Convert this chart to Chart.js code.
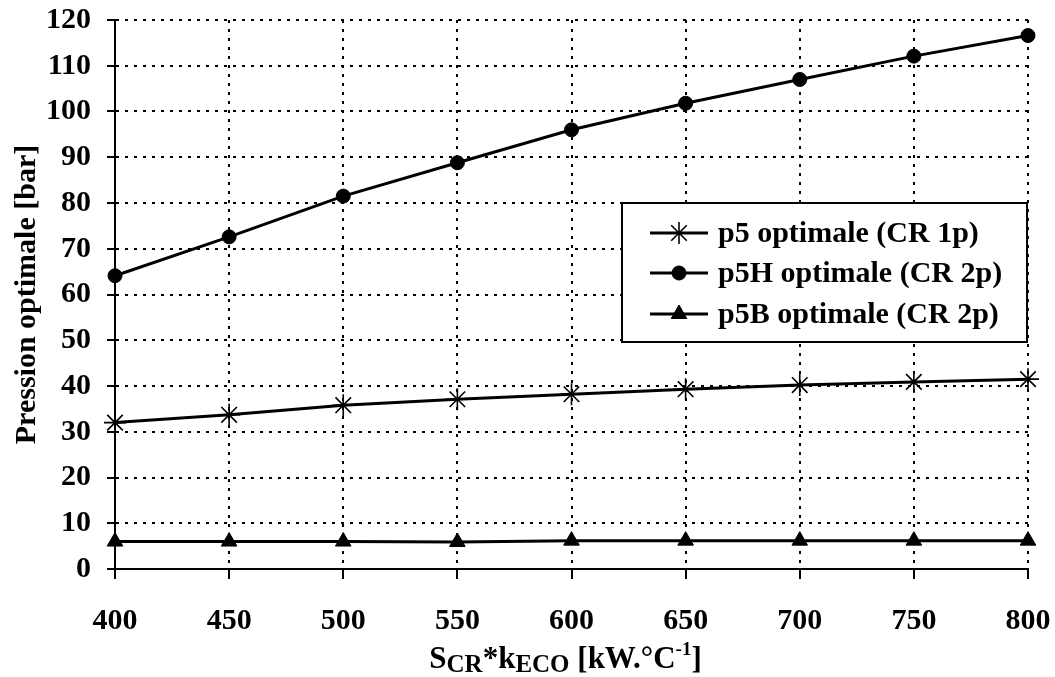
<!DOCTYPE html>
<html>
<head>
<meta charset="utf-8">
<script src="https://cdn.jsdelivr.net/npm/chart.js@4/dist/chart.umd.min.js"></script>
<style>
html, body { margin: 0; padding: 0; background: #fff; }
#wrap { width: 1055px; height: 677px; position: relative; }
</style>
</head>
<body>
<div id="wrap"><canvas id="canvas" width="1055" height="677"></canvas></div>
<script>
// values
var xValues = [400, 450, 500, 550, 600, 650, 700, 750, 800];
var p5 = [32.0, 33.7, 35.8, 37.1, 38.2, 39.3, 40.2, 40.9, 41.5];
var p5H = [64.1, 72.6, 81.5, 88.8, 96.0, 101.8, 107.0, 112.1, 116.6];
var p5B = [6.0, 6.0, 6.0, 5.9, 6.2, 6.2, 6.2, 6.2, 6.2];
var seriesNames = ["p5 optimale (CR 1p)", "p5H optimale (CR 2p)", "p5B optimale (CR 2p)"];
var yTitle = "Pression optimale [bar]";
var yTicks = [0, 120, 10];   // min, max, step
var xTicks = [400, 800, 50];

var serif = '"Liberation Serif", "Times New Roman", serif';

function mkSet(label, data, style, radius, bw) {
    return {
        label: label,
        data: data.map(function(v, i) { return { x: xValues[i], y: v }; }),
        borderColor: "#000",
        borderWidth: 3,
        tension: 0,
        pointStyle: style,
        pointRadius: radius,
        pointHoverRadius: radius,
        pointBackgroundColor: "#000",
        pointBorderColor: "#000",
        pointBorderWidth: bw,
        clip: false
    };
}

var datasets = [
    mkSet(seriesNames[0], p5, "star", 11, 1.6),
    mkSet(seriesNames[1], p5H, "circle", 7, 1),
    mkSet(seriesNames[2], p5B, "triangle", 9, 1)
];

function drawMarker(ctx, ds, x, y) {
    ctx.fillStyle = "#000";
    ctx.strokeStyle = "#000";
    ctx.lineWidth = ds.pointBorderWidth;
    if (Chart.helpers && Chart.helpers.drawPoint) {
        Chart.helpers.drawPoint(ctx, {pointStyle: ds.pointStyle, radius: ds.pointRadius, borderWidth: ds.pointBorderWidth, rotation: 0}, x, y);
        return;
    }
    ctx.beginPath();
    ctx.arc(x, y, ds.pointRadius, 0, Math.PI * 2);
    ctx.fill();
}

// x title with sub/superscripts, and the boxed legend inside the plot
var extras = {
    id: "extras",
    afterDraw: function(chart) {
        var ctx = chart.ctx, area = chart.chartArea;
        ctx.save();
        var parts = [
            {t: "S", s: 31, dy: 0}, {t: "CR", s: 25, dy: 4},
            {t: "*k", s: 31, dy: 0}, {t: "ECO", s: 25, dy: 4},
            {t: " [kW.\u00B0C", s: 31, dy: 0}, {t: "-1", s: 19, dy: -13},
            {t: "]", s: 31, dy: 0}
        ];
        var total = 0;
        parts.forEach(function(p) {
            ctx.font = "bold " + p.s + "px " + serif;
            p.w = ctx.measureText(p.t).width;
            total += p.w;
        });
        var x = (area.left + area.right) / 2 - total / 2 - 6;
        var base = 668;
        ctx.fillStyle = "#000";
        ctx.textBaseline = "alphabetic";
        ctx.textAlign = "left";
        parts.forEach(function(p) {
            ctx.font = "bold " + p.s + "px " + serif;
            ctx.fillText(p.t, x, base + p.dy);
            x += p.w;
        });

        // legend
        var bw = 405, bh = 139;
        var bx = area.right - bw - 1, by = area.top + 183;
        ctx.fillStyle = "#fff";
        ctx.fillRect(bx, by, bw, bh);
        ctx.strokeStyle = "#000";
        ctx.lineWidth = 2;
        ctx.strokeRect(bx, by, bw, bh);
        var rows = [30, 70, 111];
        chart.data.datasets.forEach(function(ds, i) {
            var ry = by + rows[i];
            ctx.strokeStyle = "#000";
            ctx.lineWidth = 3;
            ctx.beginPath();
            ctx.moveTo(bx + 28, ry);
            ctx.lineTo(bx + 86, ry);
            ctx.stroke();
            drawMarker(ctx, ds, bx + 57, ry);
            ctx.fillStyle = "#000";
            ctx.font = "bold 30px " + serif;
            ctx.textBaseline = "middle";
            ctx.textAlign = "left";
            ctx.fillText(ds.label, bx + 96, ry + 1);
        });
        ctx.restore();
    }
};

new Chart(document.getElementById("canvas").getContext("2d"), {
    type: "line",
    data: { datasets: datasets },
    options: {
        responsive: false,
        animation: false,
        devicePixelRatio: 1,
        layout: { padding: { left: 0, right: 27, top: 20, bottom: 0 } },
        plugins: { legend: { display: false }, tooltip: { enabled: false } },
        scales: {
            x: {
                type: "linear",
                min: xTicks[0], max: xTicks[1],
                afterFit: function(s) { s.height = 108; s.paddingLeft = 0; s.paddingRight = 0; },
                ticks: { stepSize: xTicks[2], color: "#000", padding: 24, maxRotation: 0,
                         font: { family: serif, size: 30, weight: "bold" } },
                grid: { color: "#000", lineWidth: 2, tickLength: 10, tickWidth: 2, tickBorderDash: [] },
                border: { color: "#000", width: 2, dash: [3, 6] }
            },
            y: {
                min: yTicks[0], max: yTicks[1],
                afterFit: function(s) { s.width = 115; s.paddingTop = 0; s.paddingBottom = 0; },
                ticks: { stepSize: yTicks[2], color: "#000", padding: 16,
                         font: { family: serif, size: 30, weight: "bold" } },
                grid: { color: "#000", lineWidth: 2, tickLength: 8, tickWidth: 2, tickBorderDash: [] },
                border: { color: "#000", width: 2, dash: [3, 6] },
                title: { display: true, text: yTitle, color: "#000", padding: { top: 9, bottom: 0 },
                         font: { family: serif, size: 30, weight: "bold", lineHeight: 1.2 } }
            }
        }
    },
    plugins: [extras]
});
</script>
</body>
</html>
